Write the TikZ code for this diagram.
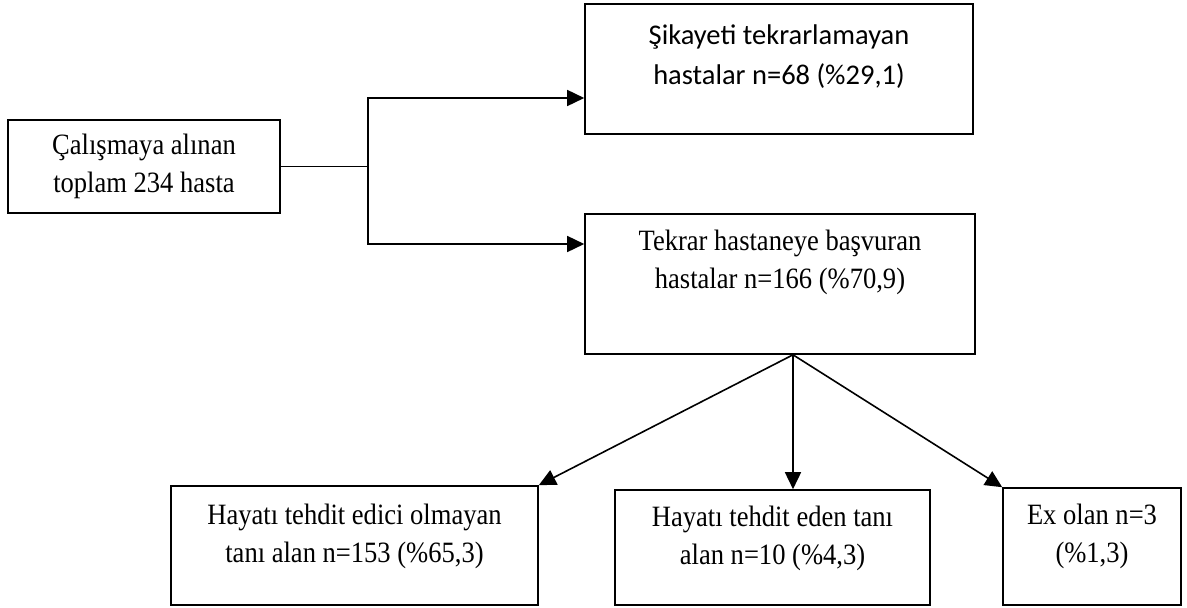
\documentclass[tikz,border=0pt]{standalone}
\usepackage{fontspec}
\setmainfont{Liberation Serif}[FakeStretch=0.9]
\newfontfamily\calibri{Carlito}
\usepackage{tikz}
\usetikzlibrary{positioning,arrows.meta}

\tikzset{
  kutu/.style={draw, line width=1.6pt, inner sep=0pt},
  yazi/.style={align=center, inner sep=0pt, font=\fontsize{29.5}{38}\selectfont},
  ok/.style={line width=1.6pt, -{Triangle[length=17pt,width=16pt]}}
}

\begin{document}
\begin{tikzpicture}[x=1pt, y=-1pt]
  \useasboundingbox (0,0) rectangle (1187,608);

  % Kutular
  \node[kutu, yazi, minimum width=272pt, minimum height=93pt] (calisma) at (144,166.5)
{Çalışmaya alınan \\ toplam 234 hasta};

  \node[kutu, minimum width=388pt, minimum height=130pt] (sikayet) at (779,69) {};
  \node[yazi, font=\calibri\fontsize{28.5}{40}\selectfont, below=21pt of sikayet.north] (sikayetY)
{Şikayeti tekrarlamayan \\ hastalar n=68 (\%29,1)};

  \node[kutu, minimum width=390pt, minimum height=140pt] (tekrar) at (780,284) {};
  \node[yazi, below=17pt of tekrar.north] (tekrarY)
{Tekrar hastaneye başvuran \\ hastalar n=166 (\%70,9)};

  % Alt kutular
  \node[kutu, minimum width=367pt, minimum height=119pt] (olmayan) at (354.5,545.5) {};
  \node[yazi, below=19pt of olmayan.north] (olmayanY)
{Hayatı tehdit edici olmayan \\ tanı alan n=153 (\%65,3)};

  \node[kutu, minimum width=315pt, minimum height=115pt] (eden) at (772.5,547.5) {};
  \node[yazi, below=17pt of eden.north] (edenY)
{Hayatı tehdit eden tanı \\ alan n=10 (\%4,3)};

  \node[kutu, minimum width=178pt, minimum height=117pt] (ex) at (1092,546.5) {};
  \node[yazi, below=17pt of ex.north] (exY)
{Ex olan n=3 \\ (\%1,3)};

  % Oklar
  \coordinate (ayrim) at ([xshift=87pt]calisma.east);
  \draw[line width=1.6pt] (calisma.east) -- (ayrim);
  \draw[ok] (ayrim) |- ([yshift=-29pt]sikayet.west);
  \draw[ok] (ayrim) |- ([yshift=40pt]tekrar.west);

  \coordinate (dal) at ([xshift=13pt]tekrar.south);
  \draw[ok] (dal) -- (olmayan.north east);
  \draw[ok] (dal) -- (dal|-eden.north);
  \draw[ok] (dal) -- (ex.north west);

\end{tikzpicture}
\end{document}
